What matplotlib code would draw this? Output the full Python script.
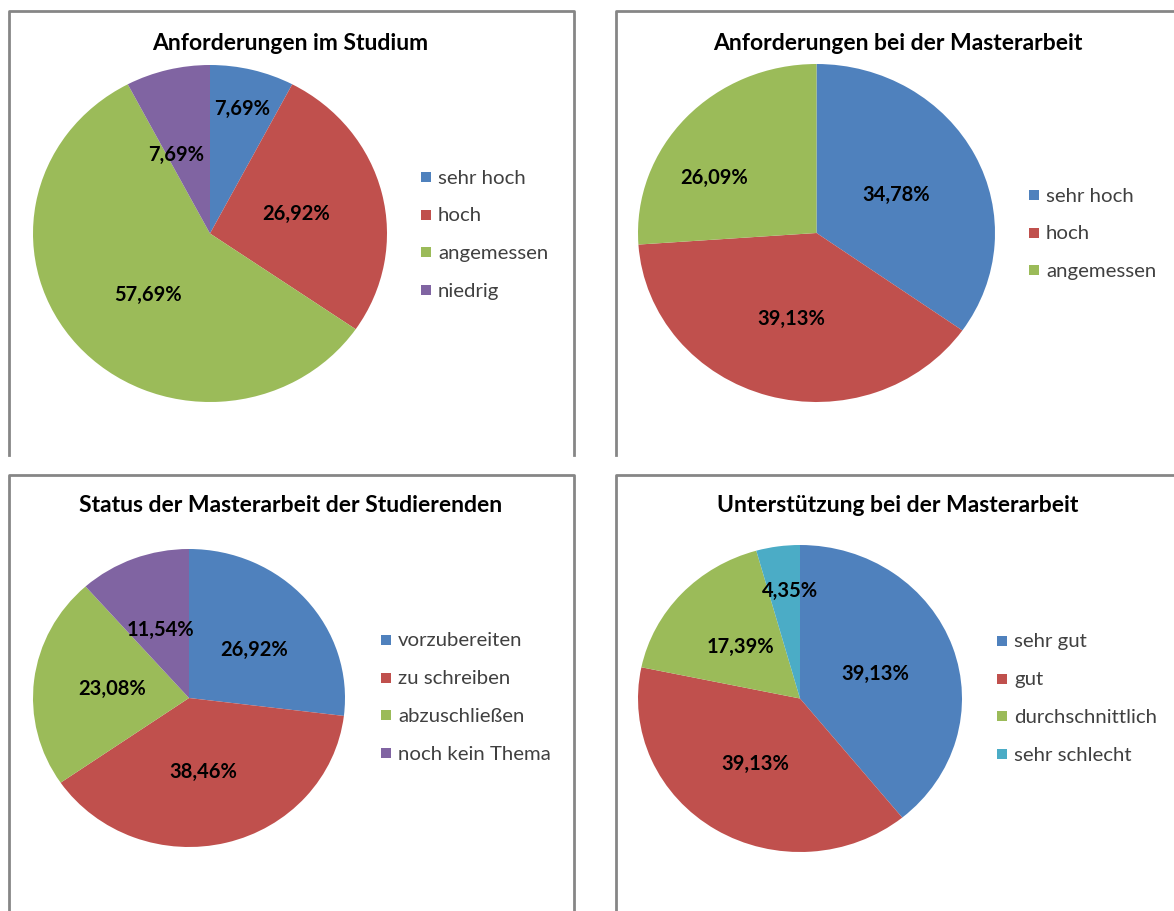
import numpy as np
import matplotlib
matplotlib.use("Agg")
import matplotlib.pyplot as plt
from matplotlib.patches import Rectangle
from matplotlib.lines import Line2D

plt.rcParams['font.family'] = ['Lato', 'DejaVu Sans']

W, H = 1174, 912

# Office palette
BLUE, RED, GREEN, PURPLE, TEAL = '#4F81BD', '#C0504D', '#9BBB59', '#8064A2', '#4BACC6'

# --- data ---
studium_labels = ['sehr hoch', 'hoch', 'angemessen', 'niedrig']
studium_values = [7.69, 26.92, 57.69, 7.69]

master_labels = ['sehr hoch', 'hoch', 'angemessen']
master_values = [34.78, 39.13, 26.09]

status_labels = ['vorzubereiten', 'zu schreiben', 'abzuschließen', 'noch kein Thema']
status_values = [26.92, 38.46, 23.08, 11.54]

support_labels = ['sehr gut', 'gut', 'durchschnittlich', 'sehr schlecht']
support_values = [39.13, 39.13, 17.39, 4.35]

panels = [
    dict(title='Anforderungen im Studium', values=studium_values, labels=studium_labels,
         colors=[BLUE, RED, GREEN, PURPLE],
         box=(9, 12, 574, 456), pie=(33, 66, 387, 403), title_xy=(290, 43),
         leg=(421, 178), lab_r=[0.77, 0.5, 0.5, 0.51], lab_da=[0, 0, 4, 8]),
    dict(title='Anforderungen bei der Masterarbeit', values=master_values, labels=master_labels,
         colors=[BLUE, RED, GREEN],
         box=(616, 12, 1180, 456), pie=(638, 65, 995, 403), title_xy=(898, 43),
         leg=(1029, 196), lab_r=[0.5, 0.52, 0.66], lab_da=[0, 0, 13]),
    dict(title='Status der Masterarbeit der Studierenden', values=status_values, labels=status_labels,
         colors=[BLUE, RED, GREEN, PURPLE],
         box=(9, 476, 574, 920), pie=(33, 550, 345, 848), title_xy=(291, 506),
         leg=(381, 641), lab_r=[0.53, 0.5, 0.5, 0.5], lab_da=[-3, -3, -1, 1]),
    dict(title='Unterstützung bei der Masterarbeit', values=support_values, labels=support_labels,
         colors=[BLUE, RED, GREEN, TEAL],
         box=(616, 476, 1180, 920), pie=(638, 546, 962, 853), title_xy=(898, 506),
         leg=(997, 642), lab_r=[0.49, 0.5, 0.5, 0.71], lab_da=[0, -2, 0, -3]),
]

fig = plt.figure(figsize=(W / 100, H / 100), dpi=100)


def fx(px):
    return px / W


def fy(py):
    return 1 - py / H


for p in panels:
    x0, y0, x1, y1 = p['box']
    # chart frame: left, top, right
    fig.add_artist(Line2D([fx(x0), fx(x0), fx(x1), fx(x1)], [fy(y1), fy(y0), fy(y0), fy(y1)],
                          transform=fig.transFigure, color='#868686', lw=2))

    fig.text(fx(p['title_xy'][0]), fy(p['title_xy'][1]), p['title'], ha='center', va='center',
             fontsize=16.5, fontweight='bold', color='black')

    px0, py0, px1, py1 = p['pie']
    ax = fig.add_axes([fx(px0), fy(py1), fx(px1 - px0), (py1 - py0) / H])
    wedges, _ = ax.pie(p['values'], colors=p['colors'], startangle=90, counterclock=False,
                       wedgeprops=dict(linewidth=0))
    ax.set_aspect('auto')
    ax.set_xlim(-1, 1)
    ax.set_ylim(-1, 1)
    ax.axis('off')

    for w, v, r, da in zip(wedges, p['values'], p['lab_r'], p['lab_da']):
        ang = np.deg2rad((w.theta1 + w.theta2) / 2 + da)
        ax.text(r * np.cos(ang), r * np.sin(ang), f'{v:.2f}%'.replace('.', ','),
                ha='center', va='center', fontsize=14.5, fontweight='bold', color='black')

    lx, ly = p['leg']
    for i, (lab, col) in enumerate(zip(p['labels'], p['colors'])):
        yy = ly + i * 37.7
        fig.add_artist(Rectangle((fx(lx), fy(yy + 5)), 10 / W, 10 / H,
                                 transform=fig.transFigure, facecolor=col, edgecolor='none'))
        fig.text(fx(lx + 17), fy(yy), lab, ha='left', va='center', fontsize=14.7, color='#404040')

fig.savefig('out.png', dpi=100, facecolor='white')
